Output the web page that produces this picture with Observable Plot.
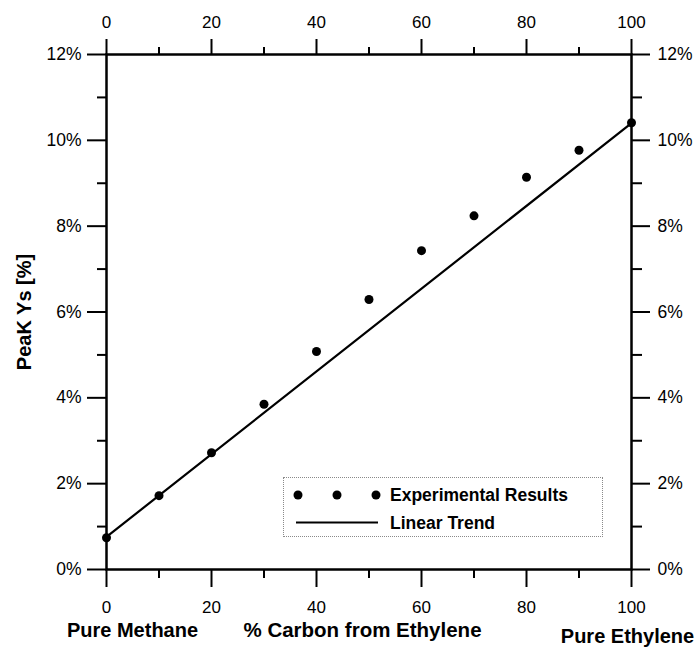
<!DOCTYPE html>
<html>
<head>
<meta charset="utf-8">
<script src="https://cdn.jsdelivr.net/npm/d3@7"></script>
<script src="https://cdn.jsdelivr.net/npm/@observablehq/plot@0.6"></script>
<style>
  html, body { margin: 0; padding: 0; background: #fff; }
  #wrap { position: relative; width: 700px; height: 648px; font-family: "Liberation Sans", Arial, sans-serif; }
  #legend { position: absolute; left: 283px; top: 477px; width: 320px; height: 60px; box-sizing: border-box; border: 1px dotted #8a8a8a; }
  #legend svg { position: absolute; left: 0; top: 0; }
</style>
</head>
<body>
<div id="wrap"></div>
<script>
// Data
const carbonPct = [0, 10, 20, 30, 40, 50, 60, 70, 80, 90, 100];
const peakYs = [0.74, 1.72, 2.72, 3.85, 5.08, 6.29, 7.43, 8.24, 9.14, 9.77, 10.41];
const trendX = [0, 100];
const trendY = [0.76, 10.40];
const xMajorTicks = [0, 20, 40, 60, 80, 100];
const xMinorTicks = [10, 30, 50, 70, 90];
const yMajorTicks = [0, 2, 4, 6, 8, 10, 12];
const yMinorTicks = [1, 3, 5, 7, 9, 11];
const yTitle = "PeaK Ys [%]";
const xTitle = "% Carbon from Ethylene";
const leftNote = "Pure Methane";
const rightNote = "Pure Ethylene";
const seriesNames = ["Experimental Results", "Linear Trend"];

const points = carbonPct.map((x, i) => ({x, y: peakYs[i]}));
const trend = trendX.map((x, i) => ({x, y: trendY[i]}));
const pct = d => d + "%";
const blank = () => "";
const font = "Liberation Sans, Arial, sans-serif";
const titleStyle = {textAnchor: "middle", lineAnchor: "middle", fontWeight: "bold", fill: "black"};

const chart = Plot.plot({
  width: 700,
  height: 648,
  marginLeft: 106,
  marginRight: 69,
  marginTop: 54,
  marginBottom: 79,
  style: {fontFamily: font, background: "white", color: "black"},
  x: {domain: [0, 100]},
  y: {domain: [0, 12]},
  marks: [
    // bottom axis
    Plot.axisX({anchor: "bottom", ticks: xMajorTicks, tickSize: 18, tickPadding: 13, fontSize: 17, strokeWidth: 2, label: null}),
    Plot.axisX({anchor: "bottom", ticks: xMinorTicks, tickSize: 9, tickFormat: blank, strokeWidth: 2, label: null}),
    // top axis
    Plot.axisX({anchor: "top", ticks: xMajorTicks, tickSize: 16, tickPadding: 11, fontSize: 17, strokeWidth: 2, label: null}),
    Plot.axisX({anchor: "top", ticks: xMinorTicks, tickSize: 8, tickFormat: blank, strokeWidth: 2, label: null}),
    // left axis
    Plot.axisY({anchor: "left", ticks: yMajorTicks, tickSize: 19, tickPadding: 6, tickFormat: pct, fontSize: 17.5, strokeWidth: 2, label: null}),
    Plot.axisY({anchor: "left", ticks: yMinorTicks, tickSize: 9, tickFormat: blank, strokeWidth: 2, label: null}),
    // right axis
    Plot.axisY({anchor: "right", ticks: yMajorTicks, tickSize: 18, tickPadding: 8, tickFormat: pct, fontSize: 17.5, strokeWidth: 2, label: null}),
    Plot.axisY({anchor: "right", ticks: yMinorTicks, tickSize: 10, tickFormat: blank, strokeWidth: 2, label: null}),
    Plot.frame({stroke: "black", strokeWidth: 2.5}),
    Plot.line(trend, {x: "x", y: "y", stroke: "black", strokeWidth: 2.2}),
    Plot.dot(points, {x: "x", y: "y", r: 4.5, fill: "black", stroke: "none"}),
    // titles
    Plot.text([yTitle], {...titleStyle, frameAnchor: "left", dx: -82, dy: 0, rotate: -90, fontSize: 20}),
    Plot.text([leftNote], {...titleStyle, frameAnchor: "bottom-left", dx: 26, dy: 61, fontSize: 20}),
    Plot.text([xTitle], {...titleStyle, frameAnchor: "bottom-left", dx: 256, dy: 61, fontSize: 20.5}),
    Plot.text([rightNote], {...titleStyle, frameAnchor: "bottom-right", dx: -4, dy: 67, fontSize: 20})
  ]
});

const wrap = document.getElementById("wrap");
wrap.appendChild(chart);

// Legend
const legend = document.createElement("div");
legend.id = "legend";
wrap.appendChild(legend);
const ls = d3.select(legend).append("svg").attr("width", 320).attr("height", 60);
ls.selectAll("circle").data([14, 53, 92]).join("circle")
  .attr("cx", d => d).attr("cy", 17).attr("r", 4.5).attr("fill", "black");
ls.append("line").attr("x1", 12).attr("x2", 94).attr("y1", 44.5).attr("y2", 44.5)
  .attr("stroke", "black").attr("stroke-width", 2.2);
ls.selectAll("text").data(seriesNames).join("text")
  .attr("x", 106).attr("y", (d, i) => i === 0 ? 17 : 44.5)
  .attr("dy", "0.35em")
  .attr("font-family", font).attr("font-weight", "bold").attr("font-size", 17.5)
  .text(d => d);
</script>
</body>
</html>
